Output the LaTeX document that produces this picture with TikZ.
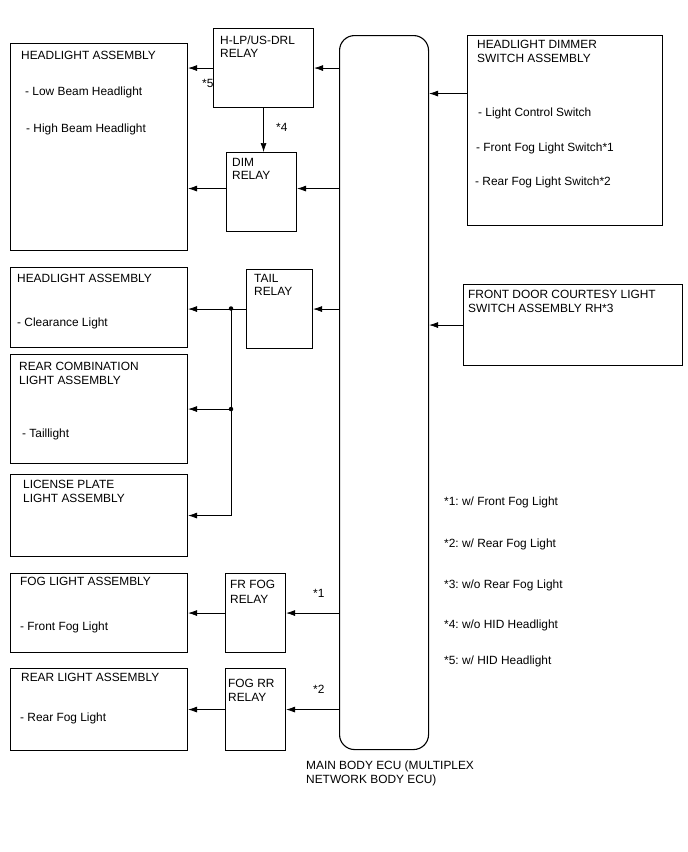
\documentclass[tikz,border=0pt]{standalone}
\usepackage{fontspec}
\setmainfont{Liberation Sans}
\frenchspacing
\usetikzlibrary{arrows.meta}
\tikzstyle{box} = [rectangle, draw=black, line width=1.1pt, anchor=north west, inner sep=0pt]
\tikzstyle{txt} = [anchor=base west, inner sep=0pt, font=\fontsize{11.9}{14}\selectfont]
\tikzstyle{arrow} = [line width=0.7pt, -{Latex[length=9pt,width=6pt]}]
\tikzstyle{joint} = [circle, fill=black, inner sep=0pt, minimum size=4.5pt]
\begin{document}
\begin{tikzpicture}[x=1pt, y=-1pt]
      \useasboundingbox (0,0) rectangle (688,852);
      % boxes
      \node (hlA)[box, minimum width=177pt, minimum height=207pt] at (10,43) {};
      \node (hlp)[box, minimum width=100pt, minimum height=79pt] at (213,28) {};
      \node (dim)[box, minimum width=70pt, minimum height=79pt] at (226,152) {};
      \node (ecu)[box, rounded corners=15pt, minimum width=89pt, minimum height=714pt] at (339,35) {};
      \node (dimsw)[box, minimum width=195pt, minimum height=190pt] at (467,35) {};
      \node (door)[box, minimum width=219pt, minimum height=81pt] at (463,284) {};
      \node (hlB)[box, minimum width=177pt, minimum height=80pt] at (10,267) {};
      \node (tail)[box, minimum width=66pt, minimum height=79pt] at (246,269) {};
      \node (rcl)[box, minimum width=177pt, minimum height=109pt] at (10,354) {};
      \node (lic)[box, minimum width=177pt, minimum height=82pt] at (10,474) {};
      \node (fog)[box, minimum width=177pt, minimum height=79pt] at (10,573) {};
      \node (frfog)[box, minimum width=60pt, minimum height=79pt] at (225,573) {};
      \node (rear)[box, minimum width=177pt, minimum height=82pt] at (10,668) {};
      \node (fogrr)[box, minimum width=60pt, minimum height=82pt] at (225,668) {};
      % texts
      \node (hlAt1)[txt] at (21,59) {HEADLIGHT ASSEMBLY};
      \node (hlAt2)[txt] at (25,95) {- Low Beam Headlight};
      \node (hlAt3)[txt] at (26,132) {- High Beam Headlight};
      \node (hlpt1)[txt] at (220,44) {H-LP/US-DRL};
      \node (hlpt2)[txt] at (220,57) {RELAY};
      \node (dimt1)[txt] at (232,166) {DIM};
      \node (dimt2)[txt] at (232,179) {RELAY};
      \node (dimswt1)[txt] at (477,48) {HEADLIGHT DIMMER};
      \node (dimswt2)[txt] at (477,62) {SWITCH ASSEMBLY};
      \node (dimswt3)[txt] at (478,116) {- Light Control Switch};
      \node (dimswt4)[txt] at (476,151) {- Front Fog Light Switch*1};
      \node (dimswt5)[txt] at (475,185) {- Rear Fog Light Switch*2};
      \node (doort1)[txt] at (468,298) {FRONT DOOR COURTESY LIGHT};
      \node (doort2)[txt] at (468,312) {SWITCH ASSEMBLY RH*3};
      \node (hlBt1)[txt] at (17,282) {HEADLIGHT ASSEMBLY};
      \node (hlBt2)[txt] at (17,326) {- Clearance Light};
      \node (tailt1)[txt] at (254,282) {TAIL};
      \node (tailt2)[txt] at (254,295) {RELAY};
      \node (rclt1)[txt] at (19,370) {REAR COMBINATION};
      \node (rclt2)[txt] at (19,384) {LIGHT ASSEMBLY};
      \node (rclt3)[txt] at (22,437) {- Taillight};
      \node (lict1)[txt] at (23,488) {LICENSE PLATE};
      \node (lict2)[txt] at (23,502) {LIGHT ASSEMBLY};
      \node (fogt1)[txt] at (20,585) {FOG LIGHT ASSEMBLY};
      \node (fogt2)[txt] at (20,630) {- Front Fog Light};
      \node (frfogt1)[txt] at (230,588) {FR FOG};
      \node (frfogt2)[txt] at (230,603) {RELAY};
      \node (reart1)[txt] at (21,681) {REAR LIGHT ASSEMBLY};
      \node (reart2)[txt] at (20,721) {- Rear Fog Light};
      \node (fogrrt1)[txt] at (228,687) {FOG RR};
      \node (fogrrt2)[txt] at (228,701) {RELAY};
      \node (ecut1)[txt] at (306,769) {MAIN BODY ECU (MULTIPLEX};
      \node (ecut2)[txt] at (306,783) {NETWORK BODY ECU)};
      % notes
      \node (n5)[txt] at (202,87) {*5};
      \node (n4)[txt] at (276,131) {*4};
      \node (n1)[txt] at (313,597) {*1};
      \node (n2)[txt] at (313,693) {*2};
      \node (note1)[txt] at (444,505) {*1: w/ Front Fog Light};
      \node (note2)[txt] at (444,547) {*2: w/ Rear Fog Light};
      \node (note3)[txt] at (444,588) {*3: w/o Rear Fog Light};
      \node (note4)[txt] at (444,628) {*4: w/o HID Headlight};
      \node (note5)[txt] at (444,664) {*5: w/ HID Headlight};
      % connectors
      \coordinate (dimin) at ([yshift=3.5pt]dim.east);
      \coordinate (swout) at ([yshift=37pt]dimsw.west);
      \draw [arrow](ecu.west |- hlp.east) -- (hlp.east);
      \draw [arrow](hlp.west) -- (hlA.east |- hlp.west);
      \draw [arrow](hlp.south) -- (hlp.south |- dim.north);
      \draw [arrow](ecu.west |- dimin) -- (dimin);
      \draw [arrow](dim.west |- dimin) -- (hlA.east |- dimin);
      \draw [arrow](swout) -- (ecu.east |- swout);
      \draw [arrow](door.west) -- (ecu.east |- door.west);
      \draw [arrow](ecu.west |- tail.east) -- (tail.east);
      \draw [arrow](tail.west) -- (hlB.east |- tail.west);
      \node (j1)[joint] at (231,308.5) {};
      \node (j2)[joint] at (j1 |- rcl.east) {};
      \draw [line width=0.7pt](j1.center) -- (j1 |- lic.east);
      \draw [arrow](j2.center) -- (rcl.east);
      \draw [arrow](j1 |- lic.east) -- (lic.east);
      \draw [arrow](ecu.west |- frfog.east) -- (frfog.east);
      \draw [arrow](frfog.west) -- (fog.east |- frfog.west);
      \draw [arrow](ecu.west |- fogrr.east) -- (fogrr.east);
      \draw [arrow](fogrr.west) -- (rear.east |- fogrr.west);
    \end{tikzpicture}
\end{document}
